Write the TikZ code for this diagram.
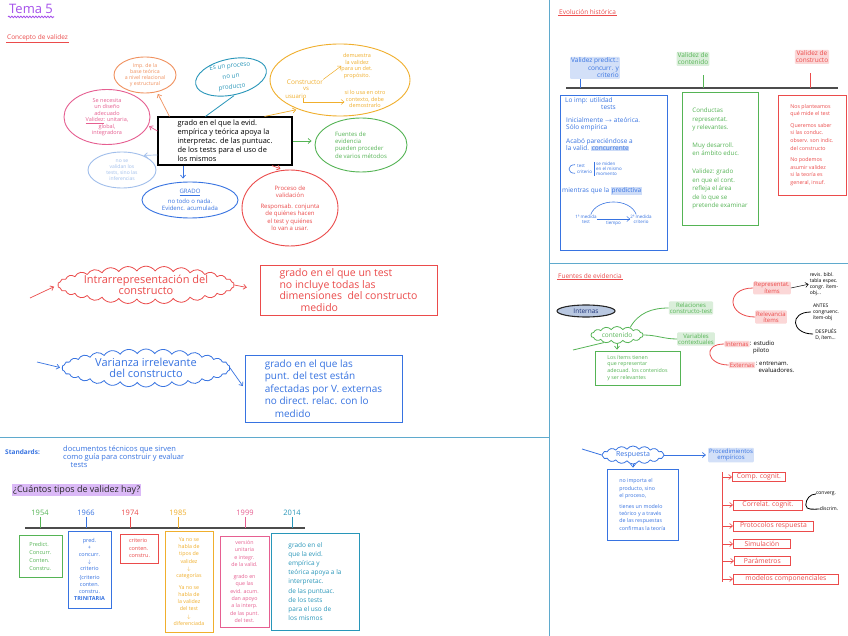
\documentclass[tikz,border=0pt]{standalone}
\usepackage{fontspec}
\setmainfont{Open Sans}
\usetikzlibrary{shapes.geometric, shapes.symbols, arrows.meta, positioning, decorations.pathmorphing, calc}
\definecolor{colPurple}{RGB}{165,80,235}
\definecolor{colRed}{RGB}{235,75,75}
\definecolor{colBlue}{RGB}{55,115,225}
\definecolor{colGreen}{RGB}{85,180,85}
\definecolor{colOrange}{RGB}{240,175,45}
\definecolor{colSalmon}{RGB}{240,145,95}
\definecolor{colPink}{RGB}{230,95,145}
\definecolor{colTeal}{RGB}{40,150,185}
\definecolor{colLightBlue}{RGB}{160,190,235}
\definecolor{colDivider}{RGB}{95,170,205}
\definecolor{colSlate}{RGB}{185,200,225}
\definecolor{colNavy}{RGB}{30,50,120}
\newcommand{\fsz}[2]{\fontsize{#1}{#2}\selectfont}
\newcommand{\hlword}[2]{{\setlength{\fboxsep}{0.6pt}\colorbox{#1!25}{#2}}}
\tikzset{
  noteBox/.style={
    rectangle, draw, line width=0.8pt,
    inner sep=2pt, align=left
  },
  noteEll/.style={
    ellipse, draw, line width=0.9pt, inner sep=0pt
  },
  noteTxt/.style={
    inner sep=0pt, align=center
  },
  bumpy/.style={
    cloud, draw, line width=0.8pt, cloud puffs=#1, cloud puff arc=110,
    cloud ignores aspect, align=center, inner sep=0pt
  },
  hlText/.style={
    fill=#1!22, text=#1, inner sep=1pt, rounded corners=1pt, align=center
  },
  redItem/.style={
    noteBox, draw=colRed, text=colRed, font=\fsz{6.8}{7},
    inner sep=1.5pt, anchor=west, align=center
  },
  headline/.style={
    text=colRed, inner sep=1pt, font=\fsz{6.5}{7.5}
  },
  arr/.style={
    -{Straight Barb[length=3pt, width=5pt]}, line width=0.7pt
  },
  divLine/.style={
    draw=colDivider, line width=0.8pt
  },
  tline/.style={
    draw=black!70, line width=1.2pt
  }
}

\begin{document}
\begin{tikzpicture}[x=1pt, y=-1pt]

  \useasboundingbox[fill=white] (0,0) rectangle (848,636);

  % panel borders
  \draw[divLine] (549,0) -- (549,636);
  \draw[divLine] (0,437) -- (549,437);
  \draw[divLine] (549,263) -- (848,263);

  % titles
  \node[text=colPurple, font=\fsz{13}{14}, inner sep=1pt, anchor=west] (tema) at (8,9) {Tema 5};
  \draw[colPurple, line width=0.8pt, decorate, decoration={snake, amplitude=0.8pt, segment length=3pt}]
    ([yshift=-2]tema.south west) -- ([yshift=-2]tema.south east);
  \node[headline, anchor=west] (conc) at (6,38) {Concepto de validez};
  \draw[colRed, line width=0.6pt] (conc.south west) -- (conc.south east);

  % concept map
  \node[noteBox, draw=black, line width=1.1pt, minimum width=134, minimum height=48, font=\fsz{7.4}{9}] (defn) at (225,141)
    {grado en el que la evid.\\ empírica y teórica apoya la\\ interpretac. de las puntuac.\\ de los tests para el uso de\\ los mismos};

  \node[noteEll, draw=colSalmon, minimum width=62, minimum height=36] (impE) at (145,75) {};
  \node[noteTxt, text=colSalmon, font=\fsz{5.2}{6.2}] (impT) at (impE) {Imp. de la\\ base teórica\\ a nivel relacional\\ y estructural};

  \node[noteEll, draw=colTeal, minimum width=72, minimum height=36, rotate=12] (procE) at (231,77) {};
  \node[noteTxt, text=colTeal, font=\fsz{6.3}{10.5}, rotate=6] (procT) at (procE) {Es un proceso\\ no un\\ producto};

  \node[noteEll, draw=colPink, minimum width=86, minimum height=55] (disE) at (107,117) {};
  \node[noteTxt, text=colPink, font=\fsz{5.5}{6.5}] (disT) at (disE) {Se necesita\\ un diseño\\ adecuado\\ \underline{Validez}: unitaria,\\ global,\\ integradora};

  \node[noteEll, draw=colLightBlue, minimum width=68, minimum height=36] (infE) at (122,170) {};
  \node[noteTxt, text=colLightBlue, font=\fsz{5}{6}] (infT) at (infE) {no se\\ validan los\\ tests, sino las\\ inferencias};

  \node[noteEll, draw=colBlue, minimum width=96, minimum height=36] (gradE) at (190,200) {};
  \node[noteTxt, text=colBlue, font=\fsz{6}{7.5}] (gradT) at (gradE) {\underline{GRADO}\\[2pt] no todo o nada.\\ Evidenc. acumulada};

  \node[noteEll, draw=colRed, minimum width=96, minimum height=76] (valE) at (290,208) {};
  \node[noteTxt, text=colRed, font=\fsz{6}{7.2}] (valT) at (valE) {Proceso de\\ validación\\[4pt] Responsab. conjunta\\ de quiénes hacen\\ el test y quiénes\\ lo van a usar.};

  \node[noteEll, draw=colOrange, minimum width=140, minimum height=72] (consE) at (340,80) {};
  \node[noteTxt, text=colOrange, font=\fsz{6.5}{7.5}] (consA) at (305,82) {Constructor};
  \node[noteTxt, text=colOrange, font=\fsz{6}{7}] (consV) at (306,89) {vs};
  \node[noteTxt, text=colOrange, font=\fsz{6}{7}] (consU) at (296,96) {usuario};
  \node[noteTxt, text=colOrange, font=\fsz{5.5}{6.5}] (consP) at (357,66) {demuestra\\ la validez\\ para un det.\\ propósito.};
  \node[noteTxt, text=colOrange, font=\fsz{5.5}{6.5}] (consO) at (365,99) {si lo usa en otro\\ contexto, debe\\ demostrarlo};
  \draw[arr, colOrange, line width=0.5pt] (consA.north east) -- (consP.west);
  \draw[arr, colOrange, line width=0.5pt] ([xshift=-4]consU.south east) |- ([yshift=-3]consO.west);

  \node[noteEll, draw=colGreen, minimum width=92, minimum height=54] (fueE) at (361,145) {};
  \node[noteTxt, text=colGreen, font=\fsz{6}{7.2}, align=left] (fueT) at (fueE) {Fuentes de\\ evidencia\\ pueden proceder\\ de varios métodos};

  % links from the definition
  \draw[arr, colSalmon, shorten >=2pt] ([xshift=12]defn.north west) -- (impE.-55);
  \draw[colTeal, line width=0.8pt, shorten >=1pt] ([xshift=48]defn.north west) -- (procE.south);
  \draw[arr, colOrange, shorten >=2pt] ([xshift=-28]defn.north east) -- (consE.215);
  \draw[arr, colPink, shorten >=1pt] ([yshift=10]defn.west) -- (disE.-12);
  \draw[arr, colLightBlue, shorten >=1pt] ([yshift=-14]defn.west) -- (infE.35);
  \draw[arr, colBlue, shorten >=3pt] ([xshift=-42]defn.south) -- ([xshift=-7]gradE.north);
  \draw[arr, colRed, shorten >=3pt] ([xshift=47]defn.south) -- (valE.100);
  \draw[arr, colGreen, shorten >=3pt] (defn.east) -- (fueE.west |- defn.east);

  % intrarrepresentacion / varianza
  \coordinate (intraIn) at (30,298);
  \node[bumpy=30, draw=colRed, text=colRed, font=\fsz{11}{11.5}, minimum width=172, minimum height=36] (intra) at (146,285) {Intrarrepresentación del\\ constructo};
  \node[noteBox, draw=colRed, text=colRed, font=\fsz{10.5}{11.5}, minimum width=177, minimum height=50] (intraDef) at (348.5,290)
    {grado en el que un test\\ no incluye todas las\\ dimensiones \ del constructo\\ \quad\quad medido};
  \draw[arr, colRed, shorten >=4pt] (intraIn) -- (intra.west);
  \draw[arr, colRed, shorten >=13pt] (intra.east) -- (intraDef.west);

  \coordinate (varzIn) at (37,362);
  \node[bumpy=30, draw=colBlue, text=colBlue, font=\fsz{11}{11.5}, minimum width=168, minimum height=38] (varz) at (146,368) {Varianza irrelevante\\ del constructo};
  \node[noteBox, draw=colBlue, text=colBlue, font=\fsz{10}{12.5}, minimum width=157, minimum height=67] (varzDef) at (323.5,388.5)
    {grado en el que las\\ punt. del test están\\ afectadas por V. externas\\ no direct. relac. con lo\\ \quad medido};
  \draw[arr, colBlue, shorten >=2pt] (varzIn) -- (varz.west);
  \draw[arr, colBlue, shorten >=3pt] (varz.east) -- (varzDef.west);

  % standards and timeline
  \node[text=colBlue, font=\bfseries\fsz{6.5}{7.5}, anchor=west, inner sep=0pt] (stdK) at (5,452) {Standards:};
  \node[text=colBlue, font=\fsz{7.5}{8}, anchor=north west, align=left, inner sep=0pt] (stdT) at (63,446)
    {documentos técnicos que sirven\\ como guía para construir y evaluar\\ \quad tests};
  \node[fill=colPurple!40, text=black!85, font=\fsz{9}{10}, inner sep=1pt, anchor=west] (quest) at (12,490) {¿Cuántos tipos de validez hay?};

  \coordinate (tlStart) at (25,528);
  \coordinate (tlEnd) at (305,528);
  \draw[tline] (tlStart) -- (tlEnd);
  \foreach \yr/\xx/\cl in {1954/40/colGreen, 1966/86/colBlue, 1974/130/colRed, 1985/178/colOrange, 1999/245/colPink, 2014/292/colTeal}{
    \node[text=\cl, font=\fsz{7.5}{8}, inner sep=1pt] (yr\yr) at (\xx,513) {\yr};
    \draw[\cl, line width=0.9pt] (yr\yr.south) -- (yr\yr.south |- tlStart);
  }

  \node[noteBox, draw=colGreen, text=colGreen, font=\fsz{5.5}{8}, minimum width=43, minimum height=42] (bx1954) at (40.5,556) {Predict.\\ Concurr.\\ Conten.\\ Constru.};
  \node[noteBox, draw=colBlue, text=colBlue, font=\fsz{5.5}{7}, minimum width=43, minimum height=77, align=center] (bx1966) at (89.5,569.5)
    {pred.\\ +\\ concurr.\\ $\downarrow$\\ criterio\\[2pt] \{criterio\\ conten.\\ constru.\\ \textbf{TRINITARIA}};
  \node[noteBox, draw=colRed, text=colRed, font=\fsz{5.5}{7.5}, minimum width=38, minimum height=29] (bx1974) at (139.5,548.5) {criterio\\ conten.\\ constru.};
  \node[noteBox, draw=colOrange, text=colOrange, font=\fsz{5.3}{7.3}, minimum width=48, minimum height=101, align=center] (bx1985) at (189,581.5)
    {Ya no se\\ habla de\\ tipos de\\ validez\\ $\downarrow$\\ categorías\\[4pt] Ya no se\\ habla de\\ la validez\\ del test\\ $\downarrow$\\ diferenciada};
  \node[noteBox, draw=colPink, text=colPink, font=\fsz{5.3}{7.3}, minimum width=49, minimum height=91, align=center] (bx1999) at (244.5,581.5)
    {versión\\ unitaria\\ e integr.\\ de la valid.\\[5pt] grado en\\ que las\\ evid. acum.\\ dan apoyo\\ a la interp.\\ de las punt.\\ del test.};
  \node[noteBox, draw=colTeal, text=colTeal, font=\fsz{6.5}{9.2}, minimum width=88, minimum height=97] (bx2014) at (315,581.5)
    {grado en el\\ que la evid.\\ empírica y\\ teórica apoya a la\\ interpretac.\\ de las puntuac.\\ de los tests\\ para el uso de\\ los mismos};

  % evolucion historica
  \node[headline, anchor=west] (evol) at (558,12) {Evolución histórica};
  \draw[colRed, line width=0.6pt] (evol.south west) -- (evol.south east);
  \coordinate (evStart) at (566,88);
  \coordinate (evEnd) at (838,88);
  \draw[tline] (evStart) -- (evEnd);

  \node[hlText=colBlue, font=\fsz{6.5}{7.5}, align=right] (evPred) at (595,68) {Validez predict.:\\ concurr. y\\ criterio};
  \node[hlText=colGreen, font=\fsz{6.5}{7}] (evCont) at (693,59) {Validez de\\ contenido};
  \node[hlText=colRed, font=\fsz{6.5}{7}] (evCons) at (812,57) {Validez de\\ constructo};
  \draw[colBlue, line width=0.9pt] ([xshift=-15]evPred.south) -- ([xshift=-15]evPred.south |- evStart);
  \draw[colGreen, line width=0.9pt] ([xshift=10, yshift=-9]evCont.south) -- ([xshift=10]evCont.south |- evStart);
  \draw[colRed, line width=0.9pt] ([xshift=-2, yshift=-9]evCons.south) -- ([xshift=-2]evCons.south |- evStart);

  \node[noteBox, draw=colBlue, minimum width=107, minimum height=155] (evPredBox) at (613.5,172.5) {};
  \node[noteTxt, text=colBlue, font=\fsz{6.5}{7.5}, anchor=north west, align=left] (pA) at (565,97) {Lo imp: utilidad\\ \hspace*{36pt}tests};
  \node[noteTxt, text=colBlue, font=\fsz{6.5}{7.5}, anchor=north west, align=left] (pB) at (566,117) {Inicialmente $\rightarrow$ ateórica.\\ Sólo empírica};
  \node[noteTxt, text=colBlue, font=\fsz{6.5}{7.5}, anchor=north west, align=left] (pC) at (566,138) {Acabó pareciéndose a\\ la valid. \hlword{colBlue}{concurrente}};
  \node[noteTxt, text=colBlue, font=\fsz{4.5}{5.2}, anchor=west, align=left] (pTest) at (577,169) {test\\ criterio};
  \node[noteTxt, text=colBlue, font=\fsz{4.5}{5.2}, anchor=west, align=left] (pMom) at (596,169) {se miden\\ en el mismo\\ momento};
  \draw[colBlue, line width=0.6pt] ([xshift=-2]pTest.north west) .. controls +(-8,0) and +(-8,0) .. ([xshift=-2]pTest.south west);
  \draw[colBlue, line width=0.5pt] ([xshift=-1.5]pMom.north west) -- ([xshift=-1.5]pMom.south west);
  \node[noteTxt, text=colBlue, font=\fsz{6.5}{7.5}, anchor=west] (pE) at (562,191) {mientras que la \hlword{colBlue}{predictiva}};
  \node[noteTxt, text=colBlue, font=\fsz{4.5}{5.2}] (pM1) at (586,219) {1ª medida\\ test};
  \node[noteTxt, text=colBlue, font=\fsz{4.5}{5.2}] (pM2) at (641,219) {2ª medida\\ criterio};
  \draw[arr, colBlue, line width=0.5pt] (pM1.east) -- node[below, text=colBlue, font=\fsz{4.5}{5}, inner sep=1.5pt] (pTime) {tiempo} (pM2.west);
  \draw[colBlue, line width=0.6pt] ([xshift=-6]pM1.north east) to[bend left=70] ([xshift=6]pM2.north west);

  \node[noteBox, draw=colGreen, text=colGreen, font=\fsz{6.2}{8.6}, minimum width=76, minimum height=133] (evContBox) at (720,158.5)
    {Conductas\\ representat.\\ y relevantes.\\[9pt] Muy desarroll.\\ en ámbito educ.\\[9pt] Validez: grado\\ en que el cont.\\ refleja el área\\ de lo que se\\ pretende examinar};
  \node[noteBox, draw=colRed, text=colRed, font=\fsz{5.3}{7.6}, minimum width=68, minimum height=100] (evConsBox) at (812,145)
    {Nos planteamos\\ qué mide el test\\[4pt] Queremos saber\\ si las conduc.\\ observ. son indic.\\ del constructo\\[4pt] No podemos\\ asumir validez\\ si la teoría es\\ general, insuf.};

  % fuentes de evidencia
  \node[headline, anchor=west] (fuen) at (557,276) {Fuentes de evidencia};
  \draw[colRed, line width=0.6pt] (fuen.south west) -- (fuen.south east);
  \node[ellipse, draw=black!85, line width=1.1pt, fill=colSlate, text=colNavy, font=\fsz{6.5}{7}, minimum width=58, minimum height=12, inner sep=0pt] (intern) at (586,311) {Internas};

  \coordinate (contIn) at (573,350);
  \node[bumpy=14, draw=colGreen, text=colGreen, font=\fsz{6.5}{7}, minimum width=52, minimum height=17] (cont) at (617,335) {contenido};
  \node[hlText=colGreen, font=\fsz{6}{6.5}] (relCT) at (691,308) {Relaciones\\ constructo-test};
  \node[hlText=colGreen, font=\fsz{6}{6.5}] (varCx) at (696,339) {Variables\\ contextuales};
  \node[noteBox, draw=colGreen, text=colGreen, font=\fsz{5.3}{6.8}, minimum width=85, minimum height=34] (contBox) at (637.5,368)
    {Los ítems tienen\\ que representar\\ adecuad. los contenidos\\ y ser relevantes};
  \draw[colGreen, line width=0.8pt] (contIn) -- (cont.210);
  \draw[colGreen, line width=0.8pt] (cont.30) to[out=60, in=180] (relCT.west);
  \draw[colGreen, line width=0.8pt] (cont.east) to[out=0, in=180] (varCx.west);
  \draw[arr, colGreen, shorten >=1pt] (cont.south) -- (cont.south |- contBox.north);

  \node[hlText=colRed, font=\fsz{6}{6.5}] (repIt) at (772,288) {Representat.\\ ítems};
  \node[hlText=colRed, font=\fsz{6}{6.5}] (relIt) at (771,317) {Relevancia\\ ítems};
  \draw[colRed, line width=0.8pt] (repIt.west) .. controls +(-28,0) and +(-28,0) .. (relIt.west);
  \node[noteTxt, font=\fsz{5}{6}, align=left] (revis) at (824,284) {revis. bibl.\\ tabla espec.\\ congr. ítem-\\ obj...};
  \draw[arr, line width=0.5pt, shorten >=1pt] (repIt.east) -- (revis.west);
  \node[noteTxt, font=\fsz{5}{6}, align=left] (antes) at (826,312) {ANTES\\ congruenc.\\ ítem-obj};
  \node[noteTxt, font=\fsz{5}{6}, align=left] (despu) at (826,334) {DESPUÉS\\ D, ítem...};
  \draw[line width=0.8pt] ([xshift=-2]antes.west) .. controls +(-22,0) and +(-22,0) .. ([xshift=-2]despu.west);

  \node[hlText=colRed, font=\fsz{6}{6.5}] (intV) at (737,344) {Internas};
  \node[noteTxt, font=\fsz{6}{7}, align=left, anchor=north west] (intVT) at (intV.north east) {: estudio\\ \ \ piloto};
  \node[hlText=colRed, font=\fsz{6}{6.5}] (extV) at (742,365) {Externas};
  \node[noteTxt, font=\fsz{6}{7}, align=left, anchor=north west] (extVT) at (extV.north east) {: entrenam.\\ \ \ evaluadores.};
  \draw[colRed, line width=0.8pt] (intV.west) .. controls +(-22,0) and +(-22,0) .. (extV.west);

  % respuesta
  \coordinate (respIn) at (582,449);
  \node[bumpy=16, draw=colBlue, text=colBlue, font=\fsz{7}{7.5}, minimum width=62, minimum height=18] (resp) at (633,455) {Respuesta};
  \node[hlText=colBlue, font=\fsz{6}{6.5}] (procEmp) at (731,455) {Procedimientos\\ empíricos};
  \node[noteBox, draw=colBlue, text=colBlue, font=\fsz{5.3}{7.2}, minimum width=71, minimum height=71] (respBox) at (642.5,504.5)
    {no importa el\\ producto, sino\\ el proceso,\\[4pt] tienes un modelo\\ teórico y a través\\ de las respuestas\\ confirmas la teoría};
  \draw[colBlue, line width=0.8pt] (respIn) -- (resp.west);
  \draw[arr, colBlue, shorten >=2pt] (resp.east) -- (procEmp.west);
  \draw[arr, colBlue, shorten >=1pt] (resp.south) -- (resp.south |- respBox.north);

  \coordinate (brkTop) at (722,472);
  \coordinate (brkBot) at (722,582);
  \draw[colRed, line width=0.8pt] (brkTop) -- (brkBot);
  \node[redItem, minimum width=53] (iComp) at (732,477) {Comp. cognit.};
  \node[redItem, minimum width=69] (iCorr) at (733,505) {Correlat. cognit.};
  \node[redItem, minimum width=80] (iProt) at (733,526) {Protocolos respuesta};
  \node[redItem, minimum width=57] (iSim) at (733,544) {Simulación};
  \node[redItem, minimum width=56] (iPar) at (734,561) {Parámetros};
  \node[redItem, minimum width=105] (iMod) at (733,579) {modelos componenciales};
  \foreach \it in {iComp, iCorr, iProt, iSim, iPar, iMod}
    \draw[arr, colRed, line width=0.6pt] (brkTop |- \it.west) -- (\it.west);

  \node[noteTxt, font=\fsz{5}{6}] (conv) at (826,494) {converg.};
  \node[noteTxt, font=\fsz{5}{6}] (disc) at (829,509) {discrim.};
  \draw[line width=0.8pt] (conv.west) to[out=180, in=90] ([xshift=3]iCorr.east) to[out=-90, in=180] (disc.west);

\end{tikzpicture}
\end{document}
